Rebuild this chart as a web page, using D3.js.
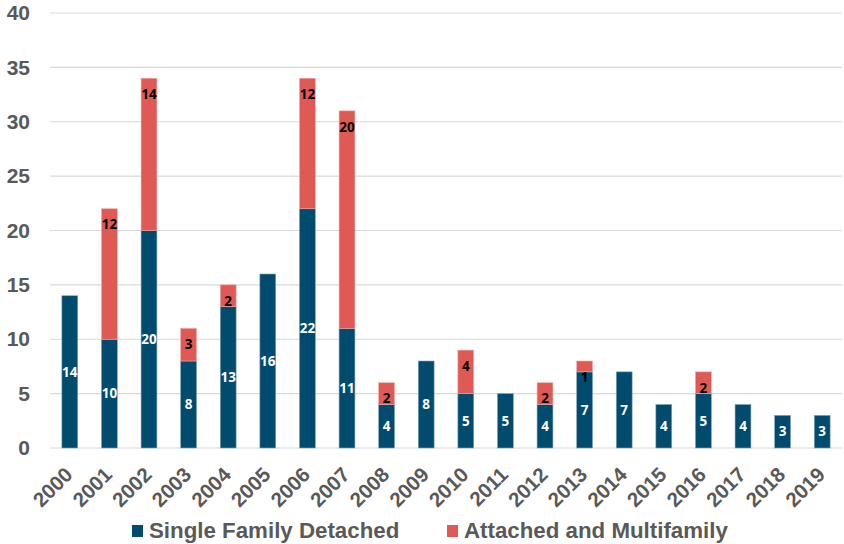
<!DOCTYPE html>
<html><head><meta charset="utf-8">
<script src="https://cdn.jsdelivr.net/npm/d3@7"></script>
<style>body{margin:0;background:#fff}svg{display:block}</style>
</head><body>
<svg id="c" width="844" height="544"></svg>
<script>
const years = ["2000","2001","2002","2003","2004","2005","2006","2007","2008","2009","2010","2011","2012","2013","2014","2015","2016","2017","2018","2019"];
const singleFamily = [14,10,20,8,13,16,22,11,4,8,5,5,4,7,7,4,5,4,3,3];
const attachedMulti = [0,12,14,3,2,0,12,20,2,0,4,0,2,1,0,0,2,0,0,0];
const yTicks = [0,5,10,15,20,25,30,35,40];
const seriesNames = ["Single Family Detached","Attached and Multifamily"];
const colors = ["#004b6e","#e05a55"];

const svg = d3.select("#c");
const pLeft = 50, pRight = 842, pTop = 13, pBottom = 448;
const x = d3.scaleBand().domain(years).range([pLeft, pRight]).paddingInner(0.6).paddingOuter(0.3);
const y = d3.scaleLinear().domain([0, 40]).range([pBottom, pTop]);
const font = "'Liberation Sans', Arial, sans-serif";
const gray = "#595959";

// gridlines
svg.append("g").selectAll("line").data(yTicks).join("line")
  .attr("x1", pLeft).attr("x2", pRight)
  .attr("y1", d => y(d)).attr("y2", d => y(d))
  .attr("stroke", "#d9d9d9").attr("stroke-width", 1.2);

// y axis labels
const yAxis = d3.axisLeft(y).tickValues(yTicks).tickSize(0).tickPadding(0);
const yg = svg.append("g").attr("transform", `translate(30,0)`).call(yAxis);
yg.select(".domain").remove();
yg.selectAll("text").attr("font-family", font).attr("font-size", 21).attr("font-weight", "bold").attr("fill", gray);

// x axis labels
const xAxis = d3.axisBottom(x).tickSize(0).tickPadding(0);
const xg = svg.append("g").attr("transform", `translate(0,${pBottom})`).call(xAxis);
xg.select(".domain").remove();
xg.selectAll("text")
  .attr("font-family", font).attr("font-size", 20.5).attr("font-weight", "bold").attr("fill", gray)
  .attr("text-anchor", "end").attr("dy", null)
  .attr("transform", "translate(4,28) rotate(-45)");

// bars
const data = years.map((yr, i) => ({yr, a: singleFamily[i], b: attachedMulti[i]}));
const g = svg.append("g");
g.selectAll("rect.sf").data(data).join("rect").attr("class","sf")
  .attr("x", d => x(d.yr)).attr("width", x.bandwidth())
  .attr("y", d => y(d.a)).attr("height", d => y(0) - y(d.a))
  .attr("fill", colors[0]).attr("stroke", "#7fa3b8").attr("stroke-width", 0.6);
g.selectAll("rect.am").data(data.filter(d => d.b > 0)).join("rect").attr("class","am")
  .attr("x", d => x(d.yr)).attr("width", x.bandwidth())
  .attr("y", d => y(d.a + d.b)).attr("height", d => y(d.a) - y(d.a + d.b))
  .attr("fill", colors[1]).attr("stroke", "#f0a8a5").attr("stroke-width", 0.6);

// labels
const lf = "'Open Sans', 'DejaVu Sans', sans-serif";
g.selectAll("text.sfl").data(data).join("text").attr("class","sfl")
  .attr("x", d => x(d.yr) + x.bandwidth()/2)
  .attr("y", d => y(d.a/2)).attr("dy", "0.35em")
  .attr("text-anchor", "middle").attr("font-family", lf).attr("font-size", 13.5).attr("font-weight", "bold")
  .attr("fill", "#ffffff").text(d => d.a);
g.selectAll("text.aml").data(data.filter(d => d.b > 0)).join("text").attr("class","aml")
  .attr("x", d => x(d.yr) + x.bandwidth()/2)
  .attr("y", d => y(d.a + d.b) + 16).attr("dy", "0.35em")
  .attr("text-anchor", "middle").attr("font-family", lf).attr("font-size", 13.5).attr("font-weight", "bold")
  .attr("fill", "#000000").text(d => d.b);

// legend
const legX = [132, 447];
const lg = svg.append("g");
seriesNames.forEach((n, i) => {
  lg.append("rect").attr("x", legX[i]).attr("y", 525).attr("width", 11).attr("height", 12).attr("fill", colors[i]);
  lg.append("text").attr("x", legX[i] + 17).attr("y", 538)
    .attr("font-family", font).attr("font-size", 22.3).attr("font-weight", "bold").attr("fill", gray).text(n);
});
</script>
</body></html>
